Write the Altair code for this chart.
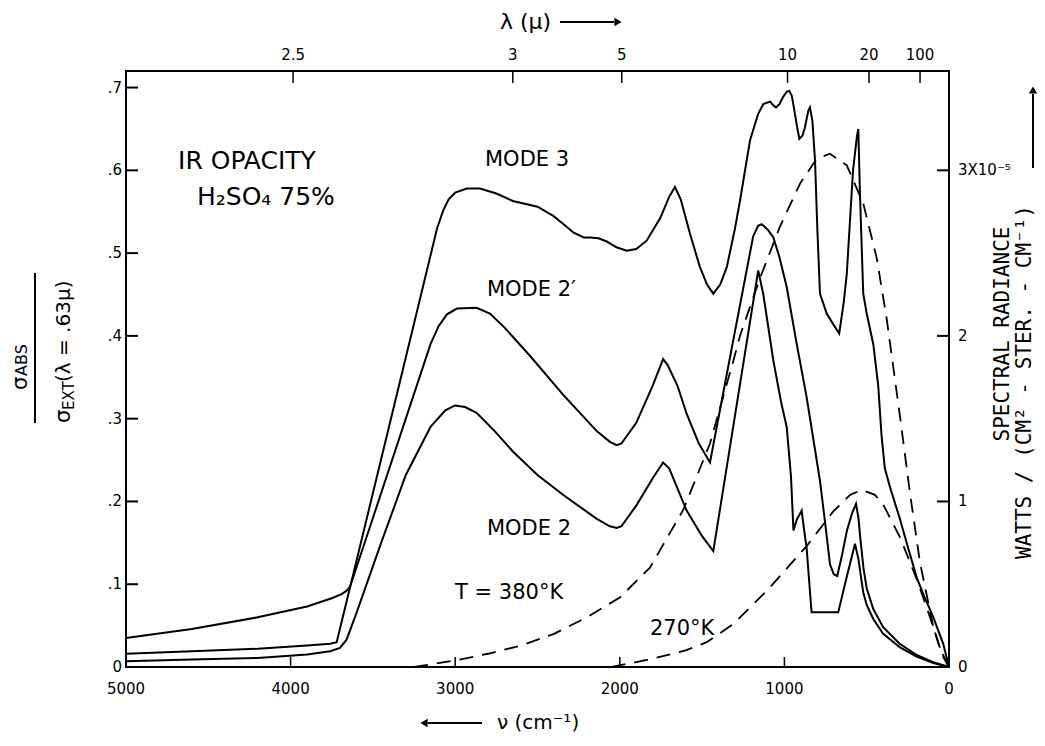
import altair as alt
import pandas as pd

FONT = "DejaVu Sans"
MONO = "DejaVu Sans Mono"
OX, OY = 126, 71          # page position of the plot origin
W, H = 823, 596           # plot area

# ---------------- data ----------------
# MODE 3 (solid)
m3_nu = [5000, 4600, 4200, 3900, 3760, 3720, 3600, 3400, 3200, 3110, 3072, 3040, 3000, 2930,
         2850, 2750, 2650, 2500, 2404, 2330, 2283, 2220, 2180, 2130, 2079, 2020, 1958, 1900,
         1837, 1755, 1700, 1665, 1630, 1573, 1513, 1470, 1432, 1390, 1350, 1300, 1270, 1209,
         1160, 1128, 1087, 1065, 1051, 1030, 1010, 985, 970, 955, 946, 925, 909, 890, 875,
         855, 845, 830, 814, 800, 784, 743, 700, 667, 640, 621, 583, 560, 551, 541, 521, 500,
         460, 430, 410, 390, 358, 300, 250, 196, 150, 95, 35, 0]
m3_y = [0.016, 0.019, 0.022, 0.026, 0.028, 0.030, 0.128, 0.292, 0.456, 0.53, 0.552, 0.565, 0.573,
        0.578, 0.578, 0.572, 0.563, 0.556, 0.545, 0.533, 0.525, 0.519, 0.519, 0.518, 0.514,
        0.507, 0.503, 0.505, 0.515, 0.542, 0.568, 0.58, 0.565, 0.523, 0.483, 0.462, 0.451,
        0.462, 0.483, 0.53, 0.563, 0.636, 0.668, 0.68, 0.683, 0.678, 0.676, 0.68, 0.688, 0.695,
        0.696, 0.69, 0.68, 0.655, 0.638, 0.642, 0.652, 0.672, 0.676, 0.66, 0.612, 0.53, 0.451,
        0.427, 0.413, 0.403, 0.44, 0.475, 0.6, 0.64, 0.65, 0.572, 0.451, 0.427, 0.39, 0.34,
        0.28, 0.24, 0.217, 0.18, 0.145, 0.108, 0.085, 0.06, 0.028, 0.0]

# MODE 2' (solid)
m2p_nu = [5000, 4600, 4200, 3900, 3750, 3690, 3660, 3639, 3500, 3300, 3150, 3100, 3050, 2990,
          2870, 2789, 2700, 2546, 2345, 2140, 2060, 2019, 1990, 1900, 1800, 1737, 1710, 1650,
          1594, 1520, 1452, 1320, 1190, 1160, 1138, 1100, 1067, 1030, 986, 925, 865, 820, 784,
          750, 723, 700, 679, 650, 620, 590, 565, 550, 541, 520, 500, 460, 400, 300, 200, 100, 0]
m2p_y = [0.035, 0.046, 0.06, 0.073, 0.083, 0.088, 0.092, 0.097, 0.18, 0.30, 0.39, 0.412, 0.426,
         0.433, 0.434, 0.427, 0.41, 0.376, 0.329, 0.285, 0.272, 0.268, 0.27, 0.295, 0.34, 0.372,
         0.365, 0.34, 0.306, 0.27, 0.247, 0.385, 0.52, 0.533, 0.535, 0.528, 0.519, 0.495, 0.459,
         0.39, 0.326, 0.27, 0.225, 0.17, 0.124, 0.112, 0.11, 0.135, 0.165, 0.185, 0.197, 0.18,
         0.16, 0.12, 0.095, 0.07, 0.048, 0.028, 0.015, 0.006, 0.0]

# MODE 2 (solid)
m2_nu = [5000, 4600, 4200, 3900, 3760, 3700, 3660, 3600, 3450, 3300, 3150, 3060, 3001, 2940,
         2870, 2760, 2648, 2500, 2345, 2140, 2060, 2019, 1990, 1900, 1800, 1737, 1700, 1594,
         1500, 1432, 1300, 1159, 1128, 1067, 1020, 986, 960, 945, 925, 895, 880, 865, 835, 673,
         620, 571, 550, 521, 500, 460, 400, 300, 200, 100, 0]
m2_y = [0.007, 0.009, 0.011, 0.015, 0.019, 0.023, 0.033, 0.065, 0.15, 0.232, 0.29, 0.31, 0.316,
        0.314, 0.307, 0.285, 0.26, 0.232, 0.208, 0.179, 0.17, 0.168, 0.17, 0.195, 0.228, 0.247,
        0.24, 0.189, 0.158, 0.14, 0.304, 0.479, 0.45, 0.37, 0.32, 0.29, 0.23, 0.165, 0.178,
        0.189, 0.165, 0.144, 0.066, 0.066, 0.11, 0.149, 0.13, 0.09, 0.075, 0.058, 0.04, 0.024,
        0.013, 0.005, 0.0]

# Spectral radiance (x 1e-5 W / (cm^2 sr cm^-1)), dashed
t380_nu = [3250, 3000, 2800, 2600, 2400, 2200, 2000, 1817, 1614, 1452, 1310, 1270, 1148, 1027,
           905, 804, 723, 621, 521, 439, 378, 296, 237, 176, 95, 40, 0]
t380_r = [0.0, 0.04, 0.08, 0.13, 0.2, 0.3, 0.42, 0.6, 0.95, 1.35, 1.85, 2.0, 2.35, 2.66, 2.92,
          3.07, 3.1, 3.03, 2.8, 2.47, 2.1, 1.5, 1.05, 0.63, 0.24, 0.07, 0.0]
t270_nu = [2050, 1900, 1800, 1700, 1600, 1472, 1310, 1107, 865, 703, 600, 530, 450, 399, 296,
           196, 115, 50, 0]
t270_r = [0.0, 0.03, 0.05, 0.075, 0.1, 0.15, 0.26, 0.46, 0.73, 0.94, 1.04, 1.07, 1.04, 0.98,
          0.78, 0.53, 0.3, 0.1, 0.0]

# axes
nu_ticks = [5000, 4000, 3000, 2000, 1000, 0]
nu_labels = ["5000", "4000", "3000", "2000", "1000", "0"]
op_ticks = [0, 0.1, 0.2, 0.3, 0.4, 0.5, 0.6, 0.7]
op_labels = ["0", ".1", ".2", ".3", ".4", ".5", ".6", ".7"]
lam_nu = [3985, 2650, 1988, 981, 486, 176]
lam_labels = ["2.5", "3", "5", "10", "20", "100"]
rad_ticks = [0, 1, 2, 3]
rad_labels = ["0", "1", "2", "3X10\u207b\u2075"]

# curve annotations
mode_text = ["MODE  3", "MODE  2\u2032", "MODE  2", "T  =  380\u00b0K", "270\u00b0K"]
mode_nu = [2819, 2807, 2807, 3001, 1817]
mode_v = [0.612, 0.455, 0.167, 0.0895, 0.046]
head_text = ["IR   OPACITY", "H\u2082SO\u2084 75%"]
head_nu = [4684, 4569]
head_v = [0.611, 0.568]

# ---------------- build ----------------
def series(name, nus, vals):
    assert len(nus) == len(vals), name
    return pd.DataFrame({"nu": nus, "v": vals, "mode": name})

solid = pd.concat([series("MODE 3", m3_nu, m3_y),
                   series("MODE 2'", m2p_nu, m2p_y),
                   series("MODE 2", m2_nu, m2_y)])
assert len(t380_nu) == len(t380_r) and len(t270_nu) == len(t270_r)
dashed = pd.concat([pd.DataFrame({"nu": t380_nu, "r": t380_r, "T": "380"}),
                    pd.DataFrame({"nu": t270_nu, "r": t270_r, "T": "270"})])

xs = alt.Scale(domain=[0, 5000], reverse=True)
ys = alt.Scale(domain=[0, 0.72])
rs = alt.Scale(domain=[0, 3.6])

X = lambda f="nu": alt.X(f"{f}:Q", scale=xs, axis=None)
Y = lambda f="v": alt.Y(f"{f}:Q", scale=ys, axis=None)
R = lambda f="r": alt.Y(f"{f}:Q", scale=rs, axis=None)

one = pd.DataFrame({"a": [0]})


def ptext(txt, px, py, size, angle=0, align="left", baseline="middle", font=FONT):
    return alt.Chart(one).mark_text(text=txt, fontSize=size, angle=angle, align=align,
                                    baseline=baseline, font=font, color="black").encode(
        x=alt.value(px - OX), y=alt.value(py - OY))


def prule(x1, y1, x2, y2, w=2):
    return alt.Chart(one).mark_rule(color="black", strokeWidth=w).encode(
        x=alt.value(x1 - OX), y=alt.value(y1 - OY), x2=alt.value(x2 - OX), y2=alt.value(y2 - OY))


def phead(px, py, shape):
    return alt.Chart(one).mark_point(shape=shape, filled=True, size=70, color="black",
                                     opacity=1).encode(x=alt.value(px - OX), y=alt.value(py - OY))


lines = alt.Chart(solid).mark_line(color="black", strokeWidth=2).encode(
    x=X(), y=Y(), detail="mode:N")

left_ticks = alt.Chart(pd.DataFrame({"v": op_ticks[1:]})).mark_rule(
    color="black", strokeWidth=2).encode(y=Y(), x=alt.value(0), x2=alt.value(12))
left_labels = alt.Chart(pd.DataFrame({"v": op_ticks, "lab": op_labels})).mark_text(
    align="right", baseline="middle", fontSize=15, font=FONT, color="black").encode(
    y=Y(), x=alt.value(-4), text="lab:N")

bot_ticks = alt.Chart(pd.DataFrame({"nu": nu_ticks[1:-1]})).mark_rule(
    color="black", strokeWidth=1.5).encode(x=X(), y=alt.value(H), y2=alt.value(H - 10))
bot_labels = alt.Chart(pd.DataFrame({"nu": nu_ticks, "lab": nu_labels})).mark_text(
    align="center", baseline="middle", fontSize=15, font=FONT, color="black").encode(
    x=X(), y=alt.value(H + 22), text="lab:N")

top_ticks = alt.Chart(pd.DataFrame({"nu": lam_nu})).mark_rule(
    color="black", strokeWidth=1.5).encode(x=X(), y=alt.value(0), y2=alt.value(12))
top_labels = alt.Chart(pd.DataFrame({"nu": lam_nu, "lab": lam_labels})).mark_text(
    align="center", baseline="middle", fontSize=15, font=FONT, color="black").encode(
    x=X(), y=alt.value(-16), text="lab:N")

mode_lbl = alt.Chart(pd.DataFrame({"nu": mode_nu, "v": mode_v, "t": mode_text})).mark_text(
    align="left", baseline="middle", fontSize=21, font=FONT, color="black").encode(
    x=X(), y=Y(), text="t:N")
head_lbl = alt.Chart(pd.DataFrame({"nu": head_nu, "v": head_v, "t": head_text})).mark_text(
    align="left", baseline="middle", fontSize=25, font=FONT, color="black").encode(
    x=X(), y=Y(), text="t:N")

deco = [
    # top title  lambda (mu) -->
    ptext("\u03bb (\u03bc)", 500, 22, 22),
    prule(560, 22, 614, 22),
    phead(618, 22, "triangle-right"),
    # bottom title <-- nu (cm^-1)
    phead(424, 723, "triangle-left"),
    prule(428, 723, 482, 723),
    ptext("\u03bd (cm\u207b\u00b9)", 497, 723, 20),
    # left fraction  sigma_ABS / sigma_EXT(lambda = .63 mu)
    ptext("\u03c3", 27, 390, 21, angle=270, baseline="alphabetic"),
    ptext("ABS", 27, 376, 16, angle=270, baseline="alphabetic"),
    prule(35, 273, 35, 423),
    ptext("\u03c3", 70, 423, 21, angle=270, baseline="alphabetic"),
    ptext("EXT", 74, 410, 15, angle=270, baseline="alphabetic"),
    ptext("(\u03bb = .63\u03bc)", 70, 382, 20, angle=270, baseline="alphabetic"),
    # right titles
    ptext("SPECTRAL RADIANCE", 1009, 334, 21, angle=270, align="center",
          baseline="alphabetic", font=MONO),
    ptext("WATTS  /  (CM\u00b2  -  STER.  -  CM\u207b\u00b9)", 1031, 382, 21, angle=270,
          align="center", baseline="alphabetic", font=MONO),
    prule(1033, 168, 1033, 94),
    phead(1033, 90, "triangle-up"),
]

left_group = alt.layer(lines, left_ticks, left_labels, bot_ticks, bot_labels, top_ticks,
                       top_labels, mode_lbl, head_lbl, *deco)

dash = alt.Chart(dashed).mark_line(color="black", strokeWidth=1.8, strokeDash=[14, 9]).encode(
    x=X(), y=R(), detail="T:N")
right_ticks = alt.Chart(pd.DataFrame({"r": rad_ticks[1:]})).mark_rule(
    color="black", strokeWidth=2).encode(y=R(), x=alt.value(W), x2=alt.value(W - 12))
right_labels = alt.Chart(pd.DataFrame({"r": rad_ticks, "lab": rad_labels})).mark_text(
    align="left", baseline="middle", fontSize=15, font=FONT, color="black").encode(
    y=R(), x=alt.value(W + 9), text="lab:N")
right_group = alt.layer(dash, right_ticks, right_labels)

chart = alt.layer(left_group, right_group).resolve_scale(y="independent").properties(
    width=W, height=H,
    padding={"left": OX - 8, "top": OY - 8, "right": 88, "bottom": 68},
    autosize=alt.AutoSizeParams(type="none"),
    background="white",
).configure_view(stroke="black", strokeWidth=2)

chart.save("out.html", embed_options={"renderer": "svg", "actions": False})
